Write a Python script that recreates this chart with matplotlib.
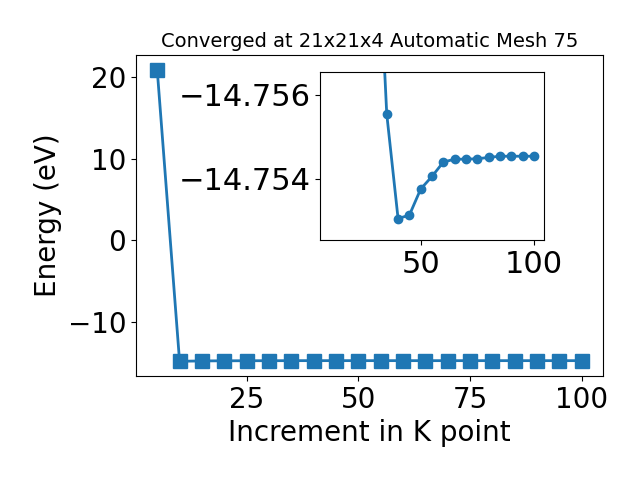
import matplotlib
matplotlib.use("Agg")
import matplotlib.pyplot as plt

kpoints = [5, 10, 15, 20, 25, 30, 35, 40, 45, 50, 55, 60, 65, 70, 75, 80, 85, 90, 95, 100]
energies = [20.9, -14.83, -14.79, -14.772, -14.765, -14.7611, -14.75554, -14.75306,
            -14.75314, -14.75376, -14.75406, -14.75440, -14.75447, -14.75447,
            -14.75448, -14.75451, -14.75454, -14.75454, -14.75454, -14.75454]
main_xticks = [25, 50, 75, 100]

fig, ax = plt.subplots(figsize=(6.4, 4.8), dpi=100)
ax.plot(kpoints, energies, marker='s', markersize=10, linewidth=2)
ax.set_xlabel('Increment in K point', fontsize=20)
ax.set_ylabel('Energy (eV)', fontsize=20)
ax.set_xticks(main_xticks)
ax.tick_params(labelsize=20)
ax.set_title('Converged at 21x21x4 Automatic Mesh 75', fontsize=14)
fig.subplots_adjust(left=0.2125, right=0.942, top=0.885, bottom=0.217)

# zoomed view of the converged region
inset = fig.add_axes([0.5, 0.5, 0.35, 0.35])
inset.plot(kpoints[1:], energies[1:], marker='o', markersize=6, linewidth=2)
inset.set_ylim(-14.75255, -14.75654)
inset.ticklabel_format(useOffset=False)
inset.tick_params(labelsize=22)

fig.savefig('out.png')
